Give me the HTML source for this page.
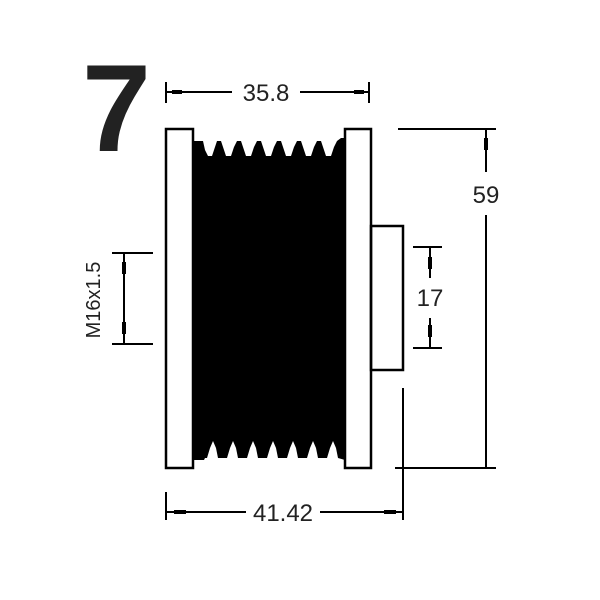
<!DOCTYPE html>
<html><head><style>html,body{margin:0;padding:0;background:#fff}svg{display:block}</style></head>
<body>
<svg width="600" height="600" viewBox="0 0 600 600" xmlns="http://www.w3.org/2000/svg" font-family="Liberation Sans, sans-serif">
<rect width="600" height="600" fill="#fff"/>
<text x="82" y="151" font-size="124" font-weight="bold" fill="#222">7</text>
<!-- body -->
<path fill="#000" d="M193,141 L203,141
L205,150 L208,156 L212,156 L215,147 L217,141 L221,141 L224,150 L226,156 L231,156 L234,147 L237,141 L241,141 L244,150 L246,156 L251,156 L254,147 L257,141 L261,141 L264,150 L266,156 L271,156 L274,147 L277,141 L281,141 L284,150 L286,156 L291,156 L294,147 L297,141 L301,141 L304,150 L306,156 L311,156 L314,147 L317,141 L321,141 L324,150 L326,156 L331,156 L334,147 L337,141 L341,138 L345,138
L345,460
L338,458 L336,448 L333,441 L330,448 L327,458 L318,458 L316,448 L313,441 L310,448 L307,458 L298,458 L296,448 L293,441 L290,448 L287,458 L278,458 L276,448 L273,441 L270,448 L267,458 L258,458 L256,448 L253,441 L250,448 L247,458 L238,458 L236,448 L233,441 L230,448 L227,458 L218,458 L216,448 L213,441 L210,448 L207,458 L205,458 L204,460 L193,460 Z"/>
<g fill="none" stroke="#000" stroke-width="2.5">
<rect x="166" y="129" width="27" height="339"/>
<rect x="345" y="129" width="26" height="339"/>
<rect x="371" y="226" width="32" height="144"/>
</g>
<g stroke="#000" stroke-width="2" fill="none">
<line x1="166" y1="82" x2="166" y2="103"/><line x1="369" y1="82" x2="369" y2="103"/>
<line x1="166" y1="92" x2="232" y2="92"/><line x1="300" y1="92" x2="369" y2="92"/>
<line x1="398" y1="129" x2="496" y2="129"/><line x1="395" y1="468" x2="496" y2="468"/>
<line x1="486" y1="129" x2="486" y2="172"/><line x1="486" y1="215" x2="486" y2="468"/>
<line x1="413" y1="247" x2="442" y2="247"/><line x1="413" y1="348" x2="442" y2="348"/>
<line x1="430" y1="247" x2="430" y2="278"/><line x1="430" y1="318" x2="430" y2="348"/>
<line x1="112" y1="253" x2="153" y2="253"/><line x1="112" y1="344" x2="153" y2="344"/>
<line x1="124" y1="253" x2="124" y2="344"/>
<line x1="166" y1="492" x2="166" y2="520"/><line x1="403" y1="388" x2="403" y2="520"/>
<line x1="166" y1="512" x2="246" y2="512"/><line x1="320" y1="512" x2="403" y2="512"/>
</g>
<g fill="#000">
<rect x="172" y="90" width="10" height="4"/><rect x="354" y="90" width="10" height="4"/>
<rect x="484" y="138" width="4" height="12"/>
<rect x="428" y="257" width="4" height="12"/><rect x="428" y="325" width="4" height="12"/>
<rect x="122" y="262" width="4" height="12"/><rect x="122" y="322" width="4" height="12"/>
<rect x="174" y="510" width="12" height="4"/><rect x="384" y="510" width="12" height="4"/>
</g>
<g fill="#222" font-size="24" text-anchor="middle">
<text x="266" y="101">35.8</text>
<text x="486" y="203">59</text>
<text x="430" y="306">17</text>
<text x="283" y="521">41.42</text>
<text transform="translate(100,300) rotate(-90)" font-size="20">M16x1.5</text>
</g>
</svg>
</body></html>
